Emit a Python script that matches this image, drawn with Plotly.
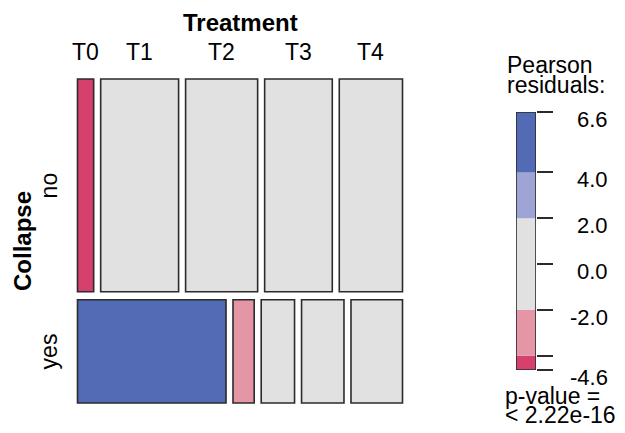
import numpy as np
import plotly.graph_objects as go

# ---- data ----
treatments = ["T0", "T1", "T2", "T3", "T4"]
collapse_levels = ["no", "yes"]
counts_no = [11, 53, 49, 46, 43]
counts_yes = [49, 7, 11, 14, 17]
p_value_text = "< 2.22e-16"
legend_tick_labels = ["6.6", "4.0", "2.0", "0.0", "-2.0", "-4.6"]

# ---- residuals ----
obs = np.array([counts_no, counts_yes], dtype=float)
N = obs.sum()
row_tot = obs.sum(axis=1)
col_tot = obs.sum(axis=0)
exp = np.outer(row_tot, col_tot) / N
resid = (obs - exp) / np.sqrt(exp)
rmin, rmax = float(resid.min()), float(resid.max())

DARK_RED = "#D5406D"
LIGHT_RED = "#E496A6"
GREY = "#E1E1E1"
LIGHT_BLUE = "#9EA5D6"
DARK_BLUE = "#536AB4"
EDGE = "#2b2b2b"


def shade(r):
    if r > 4:
        return DARK_BLUE
    if r > 2:
        return LIGHT_BLUE
    if r < -4:
        return DARK_RED
    if r < -2:
        return LIGHT_RED
    return GREY


FONT = "Liberation Sans, Arial, Helvetica, sans-serif"
W, H = 625, 433
FS = 23

fig = go.Figure()
shapes = []
annotations = []

# ---- mosaic geometry (pixel-space axis) ----
left, right, top, bottom = 77.5, 402.5, 79.0, 403.0
gap_x, gap_y = 7.0, 8.0
avail_h = bottom - top - gap_y * (len(collapse_levels) - 1)
avail_w = right - left - gap_x * (len(treatments) - 1)

y0 = top
for i, lvl in enumerate(collapse_levels):
    h = avail_h * row_tot[i] / N
    x0 = left
    for j, t in enumerate(treatments):
        w = avail_w * obs[i, j] / row_tot[i]
        shapes.append(dict(type="rect", xref="x", yref="y", x0=x0, x1=x0 + w,
                           y0=y0, y1=y0 + h, fillcolor=shade(resid[i, j]),
                           line=dict(color=EDGE, width=1.6), layer="above"))
        if i == 0:
            annotations.append(dict(xref="x", yref="y", x=x0 + w / 2, y=52,
                                    text=t, showarrow=False,
                                    font=dict(size=FS, family=FONT, color="black"),
                                    xanchor="center", yanchor="middle"))
        x0 += w + gap_x
    annotations.append(dict(xref="x", yref="y", x=49, y=y0 + h / 2, text=lvl,
                            showarrow=False, textangle=-90,
                            font=dict(size=FS, family=FONT, color="black"),
                            xanchor="center", yanchor="middle"))
    y0 += h + gap_y

annotations.append(dict(xref="x", yref="y", x=(left + right) / 2, y=22,
                        text="<b>Treatment</b>", showarrow=False,
                        font=dict(size=24, family=FONT, color="black"),
                        xanchor="center", yanchor="middle"))
annotations.append(dict(xref="x", yref="y", x=22, y=(top + bottom) / 2,
                        text="<b>Collapse</b>", showarrow=False, textangle=-90,
                        font=dict(size=24, family=FONT, color="black"),
                        xanchor="center", yanchor="middle"))

# ---- legend bar (axis x2/y2 in residual units) ----
breaks = [rmin, -4, -2, 2, 4, rmax]
seg_cols = [DARK_RED, LIGHT_RED, GREY, LIGHT_BLUE, DARK_BLUE]
for k in range(len(seg_cols)):
    shapes.append(dict(type="rect", xref="x2", yref="y2", x0=0, x1=1,
                       y0=breaks[k], y1=breaks[k + 1], fillcolor=seg_cols[k],
                       line=dict(width=0), layer="above"))
shapes.append(dict(type="rect", xref="x2", yref="y2", x0=0, x1=1, y0=rmin, y1=rmax,
                   line=dict(color=EDGE, width=1.6), layer="above"))

tick_vals = [rmax, 4, 2, 0, -2, rmin]
for v, lab in zip(tick_vals, legend_tick_labels):
    annotations.append(dict(xref="paper", yref="y2", x=609 / W, y=v, text=lab,
                            showarrow=False, xanchor="right", yanchor="top", yshift=6,
                            borderpad=0,
                            font=dict(size=22, family=FONT, color="black")))

for i, line in enumerate(["Pearson", "residuals:"]):
    annotations.append(dict(xref="x", yref="y", x=506, y=65 + 20 * i, text=line,
                            showarrow=False, xanchor="left", yanchor="middle",
                            borderpad=0,
                            font=dict(size=FS, family=FONT, color="black")))
for i, line in enumerate(["p-value =", p_value_text]):
    annotations.append(dict(xref="x", yref="y", x=504, y=396 + 19 * i, text=line,
                            showarrow=False, xanchor="left", yanchor="middle",
                            borderpad=0,
                            font=dict(size=FS, family=FONT, color="black")))

fig.add_trace(go.Scatter(x=[0], y=[0], mode="markers", marker=dict(opacity=0),
                         hoverinfo="skip", showlegend=False))
fig.add_trace(go.Scatter(x=[0], y=[0], xaxis="x2", yaxis="y2", mode="markers",
                         marker=dict(opacity=0), hoverinfo="skip", showlegend=False))

fig.update_layout(
    width=W, height=H, margin=dict(l=0, r=0, t=0, b=0),
    paper_bgcolor="white", plot_bgcolor="rgba(0,0,0,0)",
    showlegend=False,
    xaxis=dict(range=[0, W], domain=[0, 1], visible=False, fixedrange=True),
    yaxis=dict(range=[H, 0], domain=[0, 1], visible=False, fixedrange=True),
    xaxis2=dict(range=[0, 1], domain=[516 / W, 536 / W], visible=False,
                anchor="y2", fixedrange=True),
    yaxis2=dict(range=[rmin, rmax], domain=[1 - 370 / H, 1 - 112 / H],
                anchor="x2", side="right", showgrid=False, zeroline=False,
                showline=False, showticklabels=False, ticks="outside",
                ticklen=16, tickwidth=2, tickcolor=EDGE,
                tickvals=[rmax, 4, 2, 0, -2, -4, rmin], fixedrange=True),
    shapes=shapes, annotations=annotations,
)

fig.write_html("out.html", config={"displayModeBar": False},
               post_script="document.body.style.margin='0';document.body.style.overflow='hidden';")
